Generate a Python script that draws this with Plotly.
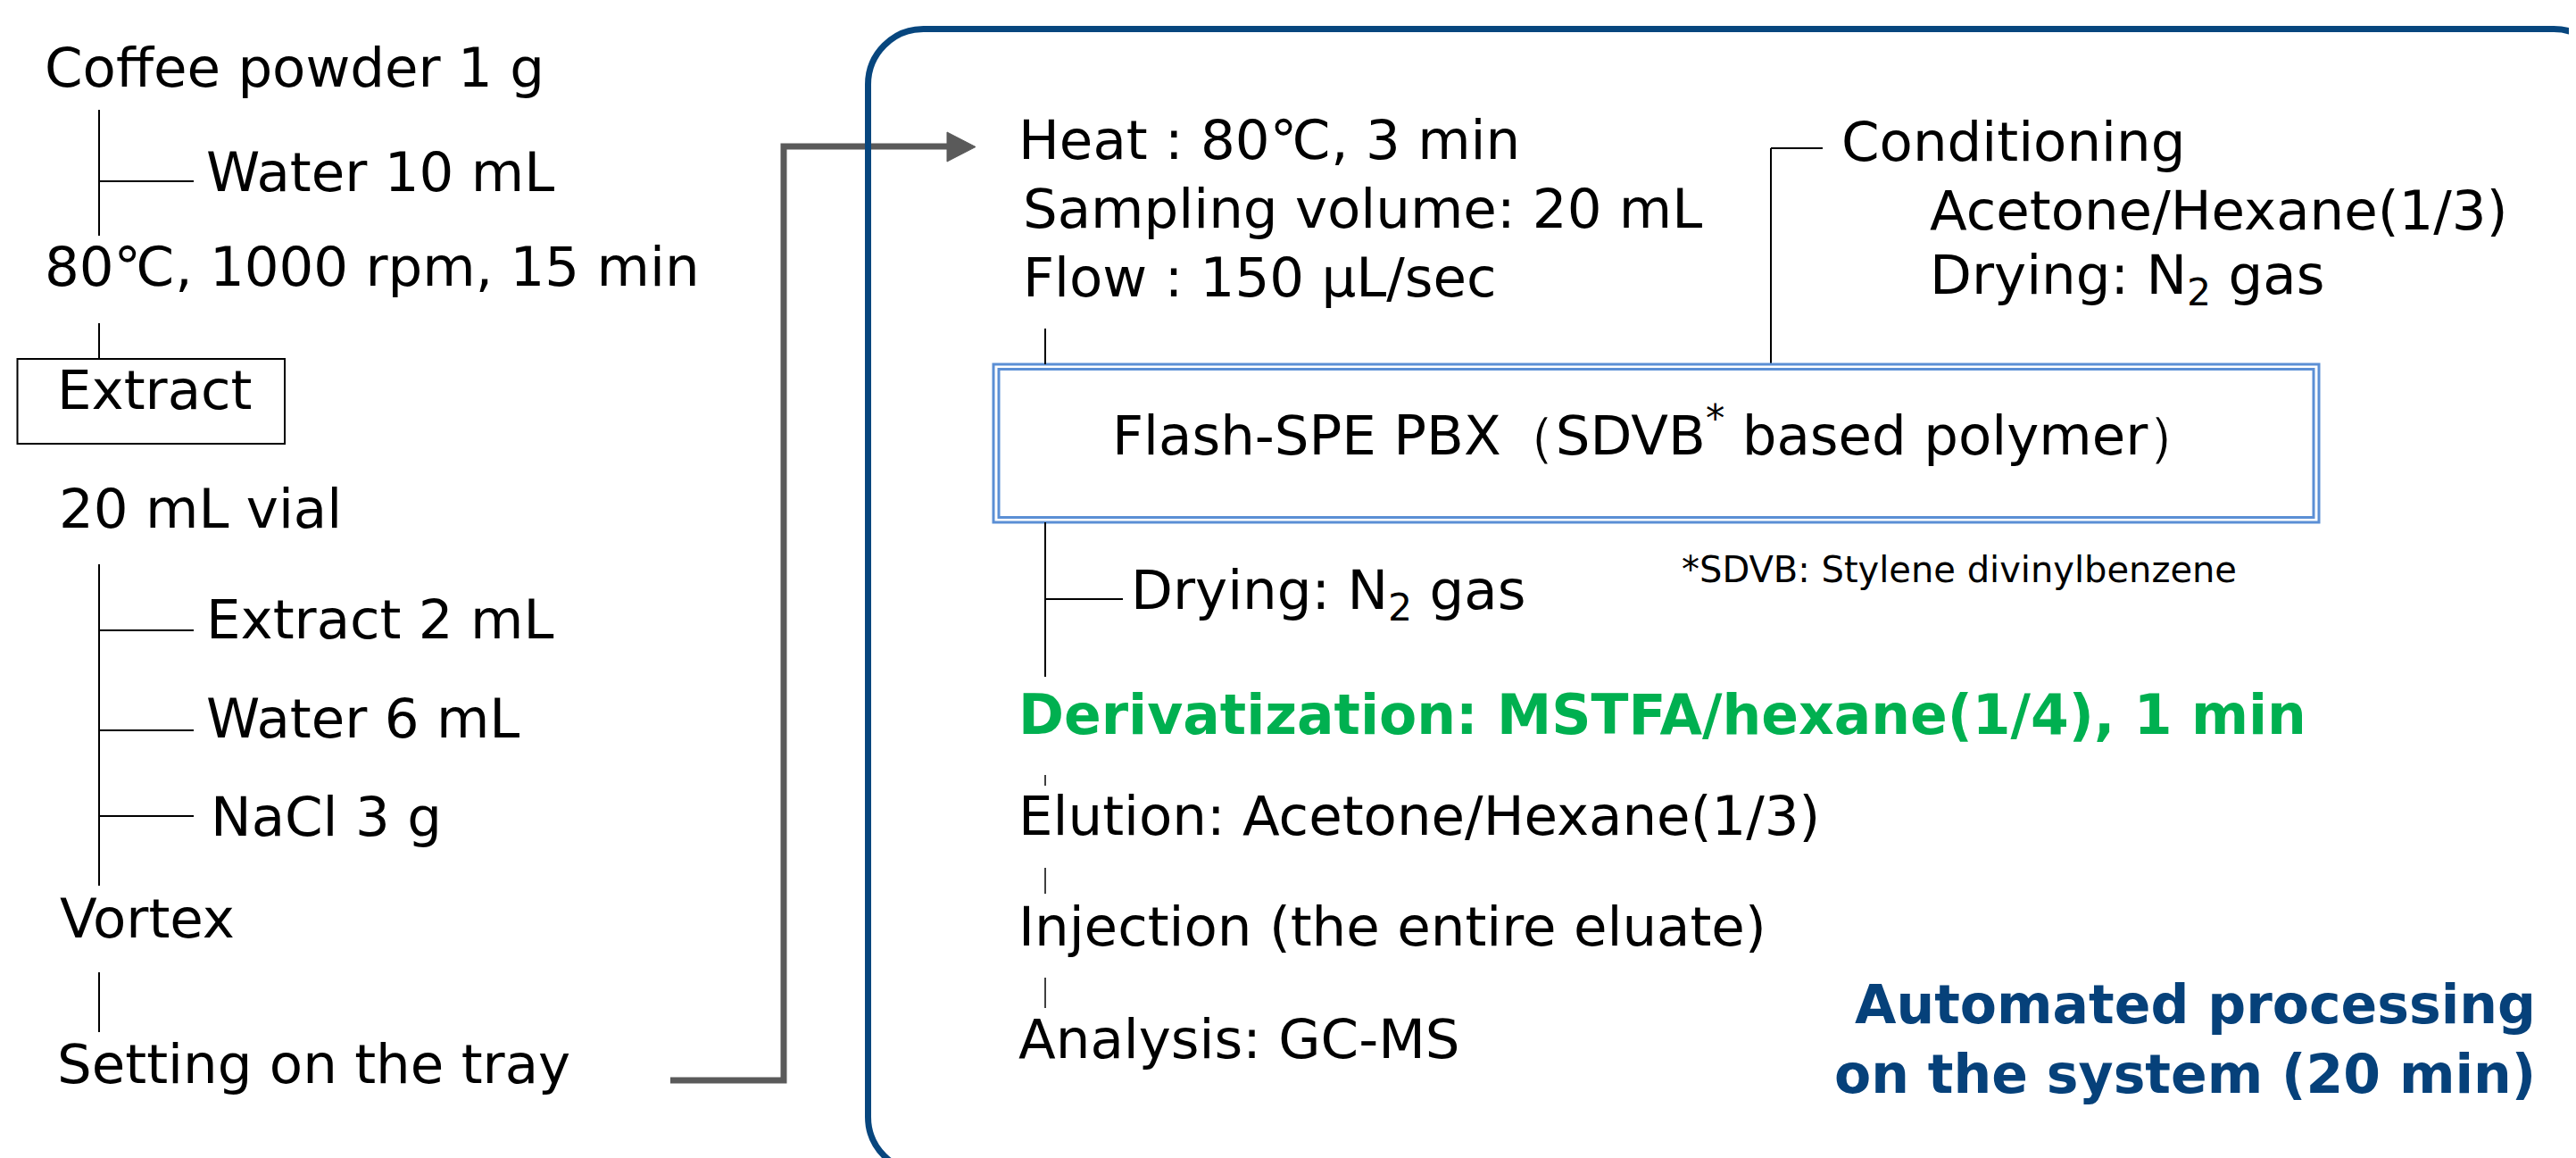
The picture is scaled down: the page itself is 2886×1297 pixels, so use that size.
import plotly.graph_objects as go

# ---------------- content (text) ----------------
left_steps = ["Coffee powder 1 g", "80℃, 1000 rpm, 15 min", "Extract",
              "20 mL vial", "Vortex", "Setting on the tray"]
left_additions = ["Water 10 mL", "Extract 2 mL", "Water 6 mL", "NaCl 3 g"]
auto_conditions = ["Heat : 80℃, 3 min", "Sampling volume: 20 mL", "Flow : 150 µL/sec"]
conditioning = ["Conditioning", "Acetone/Hexane(1/3)", "Drying: N<sub>2</sub> gas"]
cartridge = ["Flash-SPE PBX（SDVB<sup>*</sup> based polymer）"]
footnote = ["*SDVB: Stylene divinylbenzene"]
post_drying = ["Drying: N<sub>2</sub> gas"]
derivatization = ["Derivatization: MSTFA/hexane(1/4), 1 min"]
auto_steps = ["Elution: Acetone/Hexane(1/3)", "Injection (the entire eluate)", "Analysis: GC-MS"]
summary = ["Automated processing", "on the system (20 min)"]

# ---------------- layout (positions in page pixels) ----------------
W, H = 2886, 1297
FONT = "DejaVu Sans"
FS = 61
DY = -7  # offset from cap centre to annotation box centre

left_steps_xy = [(40, 74), (40, 297), (54, 435), (56, 568), (57, 1027), (54, 1190)]
left_add_xy = [(221, 191), (221, 692), (221, 803), (226, 913)]
auto_cond_xy = [(1131, 155), (1136, 232), (1136, 309)]
cond_xy = [(2053, 157), (2152, 234), (2152, 311)]

fig = go.Figure()
shapes = []
annotations = []


def line(x0, y0, x1, y1, color="black", width=2):
    shapes.append(dict(type="line", x0=x0, y0=y0, x1=x1, y1=y1, xref="x", yref="y",
                       line=dict(color=color, width=width)))


def text(t, x, y, size=FS, color="black", anchor="left", bold=False, dy=DY):
    annotations.append(dict(text=t, x=x, y=y + dy,
                            xref="x", yref="y", xanchor=anchor, yanchor="middle",
                            showarrow=False,
                            font=dict(family=FONT, size=size, color=color,
                                      weight="bold" if bold else "normal")))


# left column texts
for t, (x, y) in zip(left_steps, left_steps_xy):
    text(t, x, y)
for t, (x, y) in zip(left_additions, left_add_xy):
    text(t, x, y)

# left column lines
LX = 103
line(LX, 115, LX, 256)
line(LX, 195, 209, 195)
line(LX, 354, LX, 394)
shapes.append(dict(type="rect", x0=11.5, y0=394, x1=311, y1=489, xref="x", yref="y",
                   line=dict(color="black", width=2)))
line(LX, 624, LX, 984)
for yb in (698, 810, 906):
    line(LX, yb, 209, yb)
line(LX, 1081, LX, 1148)

# gray connector with arrow
GRAY = "#5a5a5a"
shapes.append(dict(type="path", path="M 743 1202 L 870 1202 L 870 156 L 1056 156",
                   xref="x", yref="y", line=dict(color=GRAY, width=7)))
shapes.append(dict(type="path", path="M 1053 140 L 1085 156.5 L 1053 173 Z",
                   xref="x", yref="y", fillcolor=GRAY, line=dict(color=GRAY, width=1)))

# big rounded box
x0, y0, x1, y1, r = 964.5, 24.5, 2915, 1305, 62
k = 0.45 * r
rounded = (f"M {x0 + r} {y0} L {x1 - r} {y0} C {x1 - r + (r - k)} {y0} {x1} {y0 + k} {x1} {y0 + r} "
           f"L {x1} {y1 - r} C {x1} {y1 - k} {x1 - k} {y1} {x1 - r} {y1} "
           f"L {x0 + r} {y1} C {x0 + k} {y1} {x0} {y1 - k} {x0} {y1 - r} "
           f"L {x0} {y0 + r} C {x0} {y0 + k} {x0 + k} {y0} {x0 + r} {y0} Z")
shapes.append(dict(type="path", path=rounded, xref="x", yref="y",
                   line=dict(color="#07467e", width=7)))

# right side texts
for t, (x, y) in zip(auto_conditions, auto_cond_xy):
    text(t, x, y)
for t, (x, y) in zip(conditioning, cond_xy):
    text(t, x, y)

# conditioning bracket
line(1976, 158, 1976, 400)
line(1976, 158, 2034, 158)

# SPE cartridge double box
SPEC = "#5b8fd5"
shapes.append(dict(type="rect", x0=1105, y0=400, x1=2590, y1=577, xref="x", yref="y",
                   line=dict(color=SPEC, width=3)))
shapes.append(dict(type="rect", x0=1111, y0=405.5, x1=2584, y1=571.5, xref="x", yref="y",
                   line=dict(color=SPEC, width=3)))
text(cartridge[0], 1236, 482)

RX = 1163
line(RX, 360, RX, 400)
line(RX, 577, RX, 750)
line(RX, 663, 1250, 663)
text(post_drying[0], 1257, 664)
text(footnote[0], 1874, 634, size=40, dy=-4)

text(derivatization[0], 1131, 800, size=61.5, color="#00b050", bold=True)
line(RX, 860, RX, 872, width=1.5)
line(RX, 964, RX, 993, width=1.5)
line(RX, 1087, RX, 1121, width=1.5)
for t, y in zip(auto_steps, (912, 1036, 1162)):
    text(t, 1131, y)

for t, y in zip(summary, (1124, 1202)):
    text(t, 2835, y, size=60, color="#06417a", anchor="right", bold=True)

fig.update_layout(
    width=W, height=H, autosize=False,
    margin=dict(l=0, r=0, t=0, b=0),
    paper_bgcolor="white", plot_bgcolor="white",
    xaxis=dict(range=[0, W], visible=False, fixedrange=True),
    yaxis=dict(range=[H, 0], visible=False, fixedrange=True),
    shapes=shapes, annotations=annotations, showlegend=False,
)
fig.write_html("out.html", config={"displayModeBar": False})
